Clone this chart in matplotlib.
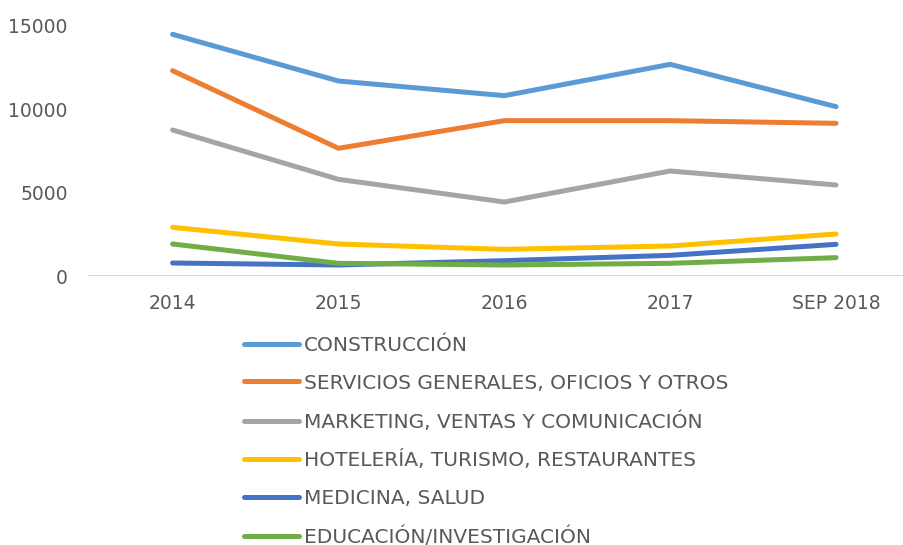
import matplotlib
matplotlib.use("Agg")
import matplotlib.pyplot as plt

categories = ["2014", "2015", "2016", "2017", "SEP 2018"]
construccion = [14500, 11700, 10820, 12700, 10160]
servicios = [12320, 7660, 9320, 9320, 9160]
marketing = [8760, 5800, 4440, 6300, 5460]
hoteleria = [2920, 1920, 1600, 1800, 2520]
medicina = [780, 660, 920, 1240, 1900]
educacion = [1920, 760, 660, 760, 1100]

series_names = [
    "CONSTRUCCIÓN",
    "SERVICIOS GENERALES, OFICIOS Y OTROS",
    "MARKETING, VENTAS Y COMUNICACIÓN",
    "HOTELERÍA, TURISMO, RESTAURANTES",
    "MEDICINA, SALUD",
    "EDUCACIÓN/INVESTIGACIÓN",
]
series_values = [construccion, servicios, marketing, hoteleria, medicina, educacion]
colors = ["#5B9BD5", "#ED7D31", "#A5A5A5", "#FFC000", "#4472C4", "#70AD47"]
yticks = [0, 5000, 10000, 15000]

W, H = 904, 545
fig = plt.figure(figsize=(W / 100, H / 100), dpi=100)
left, right, top, bottom = 88, 904, 26, 276
ax = fig.add_axes([left / W, (H - bottom) / H, (right - left) / W, (bottom - top) / H])

x = list(range(len(categories)))
lines = []
for name, vals, c in zip(series_names, series_values, colors):
    ln, = ax.plot(x, vals, color=c, lw=3.6, solid_capstyle="round",
                  solid_joinstyle="round", label=name, clip_on=False, zorder=3)
    lines.append(ln)

ax.set_xlim(-0.51, 4 + (904 - 836) / 166)
ax.set_ylim(0, 15000)
ax.set_yticks(yticks)
ax.set_yticklabels([str(v) for v in yticks])
ax.set_xticks(x)
ax.set_xticklabels(categories)
for s in ax.spines.values():
    s.set_visible(False)
ax.axhline(0, color="#D9D9D9", lw=1.5, zorder=1)
ax.tick_params(axis="both", length=0, labelsize=13.5, labelcolor="#595959")
ax.tick_params(axis="y", pad=14.5)
ax.tick_params(axis="x", pad=13)
for t in ax.get_xticklabels() + ax.get_yticklabels():
    t.set_fontfamily("DejaVu Sans")

leg = fig.legend(handles=lines, loc="upper left",
                 bbox_to_anchor=(244 / W, (H - 336) / H),
                 frameon=False, fontsize=14.5, handlelength=2.75, handletextpad=0.22,
                 labelspacing=0.92, borderpad=0, borderaxespad=0)
for t in leg.get_texts():
    t.set_color("#595959")
for h in leg.legend_handles:
    h.set_linewidth(3.6)
    h.set_solid_capstyle("round")

fig.savefig("out.png", dpi=100)
